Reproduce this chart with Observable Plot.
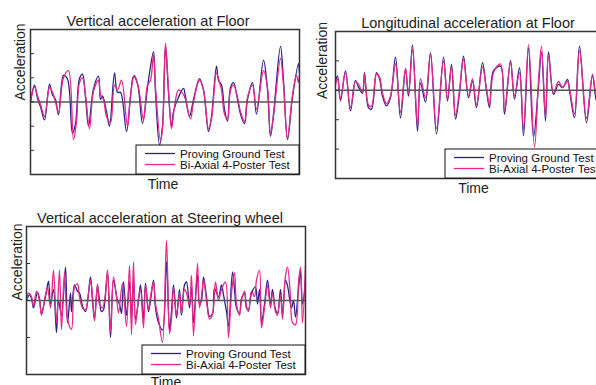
<!DOCTYPE html>
<html><head><meta charset="utf-8">
<script src="https://cdn.jsdelivr.net/npm/d3@7"></script>
<script src="https://cdn.jsdelivr.net/npm/@observablehq/plot@0.6"></script>
<style>
html,body{margin:0;padding:0;background:#fff;overflow:hidden}
#wrap{position:relative;width:596px;height:385px;overflow:hidden;background:#fff}
#wrap svg{position:absolute}
</style></head><body><div id="wrap"></div>
<script>
const FONT = '"Liberation Sans", Arial, Helvetica, sans-serif';
const seriesNames = ["Proving Ground Test", "Bi-Axial 4-Poster Test"];
const seriesColors = ["#2f1f8c", "#e8288a"];
const panelTitles = ["Vertical acceleration at Floor", "Longitudinal acceleration at Floor", "Vertical acceleration at Steering wheel"];
const axisLabelX = "Time";
const axisLabelY = "Acceleration";
const yTicksVertFloor = [-2, -1, 0, 1, 2];
const yTicksLongFloor = [-2, -1, 0, 1];
const yTicksSteering = [-1, 0, 1];

// [time, acceleration]
const vertFloorPG = [[0,0],[4,0.70],[7,0.15],[10,-0.2],[14,-0.74],[19,0.74],[22,0.29],[25,0.1],[28,-0.53],[33,1.1],[37,0.95],[42,-1.3],[45,-0.9],[49,0.97],[52,1.15],[55,0.2],[58,-1.0],[63,0.55],[68,1.07],[70,0.1],[72,0.25],[76,-0.4],[79,-1.0],[84,1.2],[87,0.4],[90,0.4],[96,-1.22],[100,0.2],[103,1.07],[107,0.75],[112,-0.88],[117,0.6],[119,1.2],[123,2.07],[125,0.4],[129,-1.77],[132,-1.0],[135,2.3],[138,0.4],[141,-1.0],[143,-0.4],[148,0.2],[153,0.56],[155,0.2],[159,-0.6],[163,0.1],[169,0.97],[173,0.5],[178,-1.22],[181,-0.6],[186,1.48],[188,0.9],[191,0.7],[194,-0.3],[197,-0.8],[200,0.6],[203,0.8],[207,0.1],[210,-0.5],[214,-0.9],[217,0.1],[222,0.8],[226,-0.5],[233,1.73],[237,0.5],[240,-1.42],[243,-0.5],[250,2.3],[253,0.9],[257,-1.56],[262,0.2],[268,1.59],[269,1.2]];
const vertFloorBA = [[0,0.05],[4,0.62],[7,0.25],[10,-0.1],[14,-0.6],[19,0.6],[22,0.4],[25,0.0],[28,-0.45],[33,1.0],[38,1.3],[43,-1.56],[46,-0.8],[49,0.8],[52,1.0],[55,0.3],[59,-1.1],[63,0.45],[68,0.9],[70,0.3],[73,0.1],[76,-0.6],[80,-0.85],[84,0.7],[87,0.5],[91,0.9],[97,-1.0],[100,0.3],[104,1.1],[108,0.6],[113,-0.75],[117,0.7],[120,0.9],[123,1.95],[125,0.6],[130,-1.6],[132,-1.1],[135,2.44],[138,0.5],[141,-1.1],[144,-0.2],[148,0.5],[153,0.3],[155,0.1],[160,-0.7],[163,0.0],[169,0.9],[173,0.5],[178,-1.1],[181,-0.7],[186,1.2],[189,0.8],[191,0.5],[194,-0.5],[197,-0.7],[200,0.5],[203,0.7],[207,0.2],[210,-0.4],[214,-0.8],[217,0.2],[222,0.7],[226,-0.3],[233,1.3],[237,0.6],[240,-1.3],[243,-0.6],[250,1.8],[253,0.7],[257,-1.5],[262,0.3],[266,1.1],[268,0.8],[269,1.1]];

const longFloorPG = [[0,0.3],[2,0.49],[5,-0.36],[10,0.66],[15,-0.7],[20,0.34],[23,0.11],[27,-0.1],[29,0.6],[33,-0.59],[36,-0.64],[41,0.6],[44,0.4],[47,-0.2],[51,-0.53],[55,-0.25],[60,1.13],[65,-0.94],[70,0.71],[73,-0.2],[77,1.54],[82,-1.39],[85,0.25],[90,-0.4],[95,1.28],[101,-1.49],[108,1.13],[112,-0.36],[116,0.88],[120,-0.98],[124,-0.1],[128,1.16],[133,-0.25],[137,0.32],[141,-0.59],[147,0.94],[151,-0.02],[154,-0.59],[158,0.66],[165,0.82],[169,-0.81],[175,1.02],[179,-0.3],[184,0.77],[188,-1.55],[193,1.45],[198,-1.6],[203,0.15],[206,1.3],[210,-1.04],[213,1.31],[218,-0.14],[223,0.2],[227,0.09],[232,0.37],[234,0.0],[239,-0.93],[244,1.5],[251,-1.1],[257,0.5],[261,-0.36],[265,0.3],[270,-0.6]];
const longFloorBA = [[0,0.2],[2,0.4],[5,-0.3],[10,0.6],[15,-0.6],[20,0.3],[23,0.2],[27,-0.05],[29,0.55],[33,-0.5],[36,-0.55],[41,0.55],[44,0.45],[47,-0.1],[51,-0.45],[55,-0.2],[60,0.9],[65,-0.75],[70,0.75],[73,-0.1],[77,1.4],[82,-1.2],[85,0.4],[90,-0.25],[95,1.2],[101,-1.3],[108,1.0],[112,-0.3],[116,0.8],[120,-0.85],[124,0.0],[128,1.05],[133,-0.2],[137,0.4],[141,-0.5],[147,0.8],[151,0.05],[154,-0.5],[158,0.6],[165,0.9],[169,-0.7],[175,0.95],[179,-0.2],[184,0.6],[188,-1.35],[193,1.56],[199,-1.94],[203,0.3],[206,1.5],[210,-0.9],[213,1.2],[218,-0.1],[223,0.3],[227,0.1],[232,0.3],[234,0.05],[239,-0.8],[244,1.35],[251,-0.95],[257,0.55],[261,-0.2],[265,0.35],[270,-0.5]];

const steeringPG = [[0,0],[3,0.15],[5,0.05],[7,-0.2],[11,0.22],[13,0.05],[15,-0.35],[19,0.1],[22,0.52],[24,-0.1],[27,0.3],[30,-0.87],[32,0.0],[35,-0.4],[39,0.9],[41,-0.6],[44,0.2],[45,-0.3],[48,0.42],[51,0.25],[53,0.2],[56,-0.15],[59,-0.3],[61,-0.05],[64,0.64],[66,0.0],[68,-0.5],[71,0.4],[73,0.0],[75,-0.3],[77,-0.25],[81,0.75],[84,-1.0],[87,0.55],[91,0.0],[93,-0.1],[95,-0.35],[97,0.5],[100,-0.4],[103,0.5],[105,-0.5],[107,0.6],[109,-0.5],[112,0.0],[114,0.42],[117,-0.5],[119,0.46],[122,-0.3],[124,0.0],[127,0.55],[129,-0.2],[132,-0.6],[136,-0.8],[140,1.04],[143,-0.8],[145,-0.3],[147,0.42],[150,-0.47],[153,0.3],[155,-0.4],[158,0.42],[160,0.5],[163,-0.2],[165,0.4],[167,-0.6],[171,0.7],[173,-0.1],[175,0.0],[177,0.64],[180,0.1],[183,-0.43],[186,-0.35],[188,0.33],[192,0.1],[195,0.42],[197,0.15],[200,-0.3],[202,-0.7],[206,0.77],[208,0.3],[210,-0.2],[213,-0.34],[215,0.05],[218,0.2],[220,-0.2],[222,-0.25],[225,0.2],[229,0.37],[231,-0.1],[233,0.3],[235,-0.6],[238,-0.1],[241,0.55],[244,-0.1],[246,0.3],[249,-0.25],[251,-0.34],[254,0.3],[256,-0.4],[259,0.55],[261,0.4],[265,-0.2],[267,0.0],[269,-0.45],[272,0.3],[274,0.8],[276,-0.1],[279,0.5]];
const steeringBA = [[0,0.0],[2,0.2],[5,0.1],[7,-0.15],[10,0.25],[13,0.0],[15,-0.4],[19,0.15],[21,0.35],[24,-0.2],[27,0.82],[30,-0.6],[33,0.82],[35,-0.78],[38,0.75],[41,-0.5],[45,-0.78],[48,0.35],[51,0.45],[53,0.1],[56,-0.2],[59,-0.25],[62,0.2],[64,0.55],[66,0.1],[68,-0.55],[71,0.45],[73,-0.1],[76,-0.2],[79,0.2],[81,0.82],[84,-0.85],[87,0.64],[90,0.1],[92,-0.34],[96,0.46],[100,-0.7],[103,0.95],[105,-0.92],[107,1.04],[109,-0.65],[112,0.05],[114,0.3],[117,-0.74],[119,0.4],[122,-0.25],[124,0.1],[127,0.5],[129,-0.1],[132,-0.5],[136,-1.14],[140,1.62],[143,-0.9],[145,-0.5],[147,0.35],[150,-0.4],[153,0.2],[155,-0.35],[158,0.3],[160,0.2],[163,-0.1],[165,0.68],[167,-0.96],[171,1.0],[173,-0.2],[175,0.1],[177,0.55],[180,0.0],[183,-0.5],[186,-0.38],[189,0.5],[192,0.0],[195,0.3],[199,0.5],[202,-1.0],[205,0.2],[208,0.75],[210,-0.1],[213,-0.4],[215,0.0],[218,0.25],[220,-0.15],[222,-0.3],[225,0.25],[228,0.1],[230,0.55],[233,0.82],[235,-0.74],[238,-0.2],[241,0.4],[244,-0.2],[246,0.2],[249,-0.3],[251,-0.4],[254,0.15],[256,-0.5],[259,0.68],[261,0.9],[264,0.1],[266,-0.6],[269,-0.65],[272,0.5],[274,0.9],[276,-0.6],[279,0.95]];

const wrap = document.getElementById("wrap");
const toObj = arr => arr.map(([t, v]) => ({t, v}));

function drawPanel(c) {
  const innerW = c.width - c.ml - c.mr;
  const svg = Plot.plot({
    width: c.width, height: c.height,
    marginLeft: c.ml, marginRight: c.mr, marginTop: c.mt, marginBottom: c.mb,
    style: {background: "transparent", fontFamily: FONT, overflow: "visible", color: "#222"},
    x: {domain: c.xDomain, axis: null},
    y: {domain: c.yDomain, axis: null},
    marks: [
      Plot.lineY(toObj(c.pg), {x: "t", y: "v", stroke: seriesColors[0], strokeWidth: 1.3, curve: "catmull-rom"}),
      Plot.lineY(toObj(c.ba), {x: "t", y: "v", stroke: seriesColors[1], strokeWidth: 1.3, curve: "catmull-rom"}),
      Plot.ruleY([0], {stroke: "#555", strokeWidth: 1.5}),
      Plot.tickY(c.yTicks, {y: d => d, stroke: "#333", strokeWidth: 1, insetRight: innerW - 4}),
      Plot.frame({stroke: "#333", strokeWidth: 1.5}),
      Plot.text([c.title], {text: d => d, frameAnchor: "top", lineAnchor: "middle", dx: c.titleDx, dy: -8, fontSize: 14.5, fill: "#222"}),
      Plot.text([axisLabelX], {text: d => d, frameAnchor: "bottom", lineAnchor: "middle", dx: c.timeDx, dy: c.timeDy, fontSize: 14, fill: "#222"}),
      Plot.text([axisLabelY], {text: d => d, frameAnchor: "left", lineAnchor: "middle", rotate: -90, dx: c.accDx, dy: c.accDy, fontSize: 14, fill: "#222"})
    ]
  });
  svg.style.left = c.left + "px";
  svg.style.top = c.top + "px";
  // legend box
  const g = d3.select(svg).append("g").attr("font-family", FONT).attr("font-size", 11.5).attr("text-anchor", "start");
  const lw = 163, lh = 29;
  const lx = c.width - c.mr - lw, ly = c.height - c.mb - lh;
  g.append("rect").attr("x", lx).attr("y", ly).attr("width", lw).attr("height", lh)
    .attr("fill", "#fff").attr("stroke", "#111").attr("stroke-width", 1);
  seriesNames.forEach((name, i) => {
    const yy = ly + 8.5 + i * 11;
    g.append("line").attr("x1", lx + 9).attr("x2", lx + 39).attr("y1", yy).attr("y2", yy)
      .attr("stroke", seriesColors[i]).attr("stroke-width", 1.3);
    g.append("text").attr("x", lx + 44).attr("y", yy).attr("dy", "0.36em")
      .attr("text-anchor", "start").attr("fill", "#111").text(name);
  });
  wrap.appendChild(svg);
}

drawPanel({title: panelTitles[0], pg: vertFloorPG, ba: vertFloorBA, xDomain: [0, 269], yDomain: [-3, 3], yTicks: yTicksVertFloor,
  left: 0, top: 0, width: 310, height: 195, ml: 30, mr: 11, mt: 29, mb: 21,
  titleDx: -7, timeDx: -2, timeDy: 10, accDx: -10, accDy: -1.5});
drawPanel({title: panelTitles[1], pg: longFloorPG, ba: longFloorBA, xDomain: [0, 273], yDomain: [-3, 2], yTicks: yTicksLongFloor,
  left: 300, top: 0, width: 320, height: 200, ml: 35, mr: 12, mt: 31, mb: 22,
  titleDx: -4, timeDx: 1.5, timeDy: 10, accDx: -12.5, accDy: -6});
drawPanel({title: panelTitles[2], pg: steeringPG, ba: steeringBA, xDomain: [0, 279], yDomain: [-2, 2], yTicks: yTicksSteering,
  left: 0, top: 200, width: 315, height: 185, ml: 26, mr: 10, mt: 26, mb: 11,
  titleDx: -6, timeDx: 0, timeDy: 8.5, accDx: -8.5, accDy: 0});
</script></body></html>
